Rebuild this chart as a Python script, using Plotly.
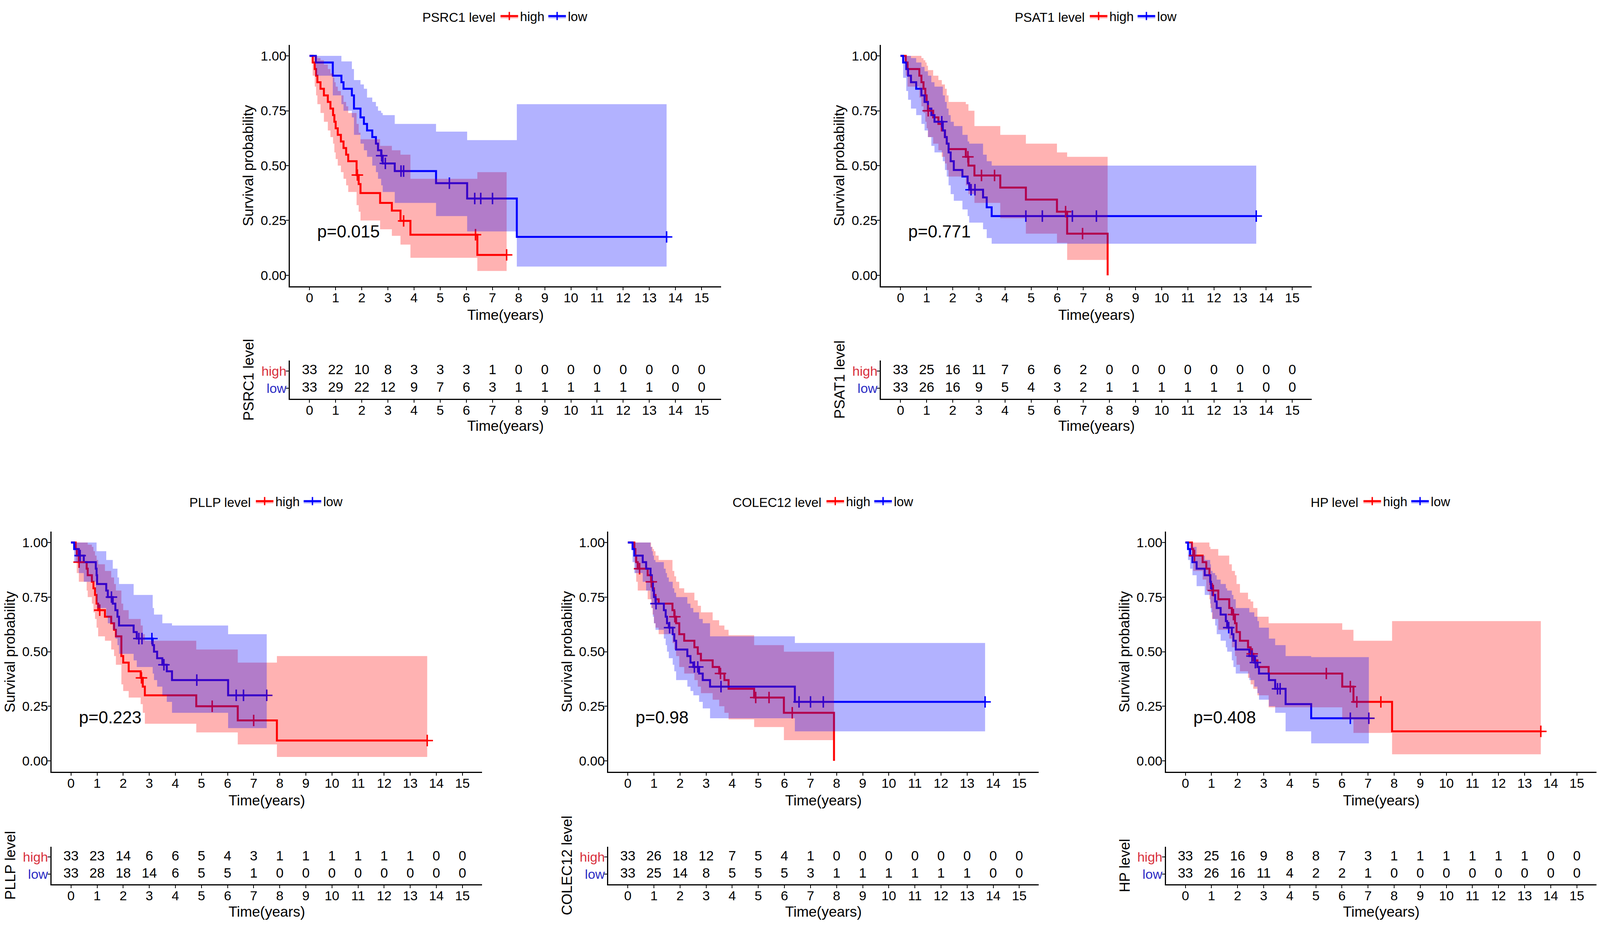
import plotly.graph_objects as go

# ---------------- data ----------------
GENES = ["PSRC1", "PSAT1", "PLLP", "COLEC12", "HP"]
GROUPS = ["high", "low"]
P_VALUES = ["p=0.015", "p=0.771", "p=0.223", "p=0.98", "p=0.408"]
TIME_TICKS = list(range(16))
SURV_TICKS = [0, 0.25, 0.5, 0.75, 1.0]
SURV_TICK_LABELS = ["0.00", "0.25", "0.50", "0.75", "1.00"]

# PSRC1
PSRC1_HIGH_T = [0, 0.12, 0.2, 0.25, 0.3, 0.42, 0.55, 0.7, 0.8, 0.9, 0.95, 1.0, 1.08, 1.2, 1.3, 1.4, 1.48, 1.8, 1.88, 1.95, 2.7, 3.15, 3.48, 3.86, 6.42]
PSRC1_HIGH_S = [1, .97, .94, .91, .88, .85, .82, .79, .76, .73, .70, .67, .64, .61, .58, .55, .52, .457, .416, .375, .33, .295, .248, .185, .093]
PSRC1_HIGH_UP = [1, 1, 1, 1, .99, .98, .96, .94, .92, .90, .88, .86, .84, .82, .79, .77, .74, .69, .65, .62, .59, .57, .55, .44, .47]
PSRC1_HIGH_LO = [1, .91, .86, .82, .78, .74, .70, .66, .63, .60, .56, .53, .50, .47, .44, .41, .38, .32, .29, .25, .21, .18, .14, .08, .02]
PSRC1_HIGH_CENSOR = [1.83, 3.6, 6.35, 7.54]
PSRC1_HIGH_END = 7.54
PSRC1_LOW_T = [0, 0.24, 0.89, 1.22, 1.3, 1.62, 1.7, 1.95, 2.08, 2.2, 2.4, 2.54, 2.62, 2.74, 2.8, 3.26, 4.84, 6.03, 7.93]
PSRC1_LOW_S = [1, .97, .91, .88, .85, .82, .76, .72, .69, .66, .63, .60, .57, .545, .51, .475, .42, .35, .175]
PSRC1_LOW_UP = [1, 1, 1, .975, .975, .94, .89, .87, .85, .81, .79, .77, .75, .74, .73, .69, .655, .616, .78]
PSRC1_LOW_LO = [1, .91, .82, .78, .75, .72, .64, .60, .57, .54, .50, .47, .44, .41, .38, .33, .27, .20, .04]
PSRC1_LOW_CENSOR = [2.76, 2.9, 3.5, 3.6, 5.35, 6.32, 6.55, 7.0, 13.66]
PSRC1_LOW_END = 13.66

# PSAT1
PSAT1_HIGH_T = [0, 0.2, 0.27, 0.72, 0.8, 0.88, 0.95, 1.0, 1.05, 1.25, 1.45, 1.58, 1.7, 1.77, 1.84, 2.5, 2.6, 2.83, 3.82, 4.8, 5.99, 6.38, 7.93]
PSAT1_HIGH_S = [1, .97, .94, .91, .88, .85, .82, .79, .75, .72, .69, .66, .63, .60, .575, .54, .50, .455, .40, .345, .29, .19, 0]
PSAT1_HIGH_UP = [1, 1, 1, 1, .99, .98, .97, .955, .935, .91, .89, .87, .85, .82, .79, .78, .75, .68, .64, .60, .56, .54, .54]
PSAT1_HIGH_LO = [1, .91, .86, .81, .77, .74, .70, .67, .63, .60, .57, .54, .51, .48, .45, .41, .37, .33, .26, .19, .148, .07, .07]
PSAT1_HIGH_CENSOR = [1.06, 2.58, 3.1, 3.6, 6.32, 6.97]
PSAT1_HIGH_END = 7.93
PSAT1_LOW_T = [0, 0.1, 0.22, 0.29, 0.4, 0.6, 0.8, 0.92, 1.05, 1.18, 1.3, 1.62, 1.7, 1.77, 1.84, 1.92, 2.04, 2.37, 2.57, 2.63, 3.16, 3.3, 3.49]
PSAT1_LOW_S = [1, .97, .94, .91, .88, .85, .82, .79, .76, .73, .70, .66, .63, .60, .56, .52, .48, .45, .42, .39, .355, .31, .27]
PSAT1_LOW_UP = [1, 1, 1, 1, .99, .97, .95, .93, .91, .88, .86, .82, .79, .76, .73, .70, .68, .64, .61, .60, .55, .52, .50]
PSAT1_LOW_LO = [1, .90, .84, .80, .76, .73, .69, .66, .63, .59, .56, .52, .48, .45, .41, .37, .34, .30, .27, .24, .21, .17, .144]
PSAT1_LOW_CENSOR = [1.58, 2.7, 2.85, 4.8, 5.43, 6.58, 7.5, 13.62]
PSAT1_LOW_END = 13.62

# PLLP
PLLP_HIGH_T = [0, .18, .22, .3, .6, .64, .8, .86, .92, .98, 1.04, 1.3, 1.54, 1.65, 1.72, 1.93, 2.0, 2.21, 2.67, 2.75, 2.83, 4.8, 6.39, 7.89]
PLLP_HIGH_S = [1, .97, .94, .91, .88, .85, .82, .79, .76, .72, .69, .66, .63, .60, .57, .48, .45, .41, .38, .34, .30, .25, .185, .093]
PLLP_HIGH_UP = [1, 1, 1, 1, 1, .99, .98, .96, .94, .92, .90, .87, .84, .81, .78, .72, .69, .65, .62, .58, .55, .51, .45, .48]
PLLP_HIGH_LO = [1, .91, .86, .82, .78, .75, .72, .68, .65, .61, .57, .55, .51, .48, .44, .35, .32, .29, .26, .22, .17, .13, .075, .018]
PLLP_HIGH_CENSOR = [.31, 1.1, 2.7, 5.41, 7.0, 13.65]
PLLP_HIGH_END = 13.65
PLLP_LOW_T = [0, .12, .3, .49, .95, .98, 1.0, 1.35, 1.41, 1.6, 1.7, 1.78, 1.84, 2.4, 2.52, 3.13, 3.18, 3.3, 3.5, 3.67, 3.87, 6.02]
PLLP_LOW_S = [1, .97, .94, .91, .88, .85, .81, .78, .75, .72, .69, .66, .62, .59, .56, .53, .50, .47, .44, .41, .37, .30]
PLLP_LOW_UP = [1, 1, 1, 1, 1, .96, .96, .92, .92, .88, .88, .84, .81, .76, .76, .70, .67, .67, .63, .63, .62, .58]
PLLP_LOW_LO = [1, .91, .86, .82, .77, .73, .70, .66, .63, .60, .56, .53, .49, .46, .43, .40, .37, .34, .30, .27, .22, .15]
PLLP_LOW_CENSOR = [.35, 1.55, 2.6, 2.72, 3.1, 3.56, 4.82, 6.33, 6.61, 7.5]
PLLP_LOW_END = 7.5

# COLEC12
COLEC12_HIGH_T = [0, .25, .29, .32, .38, .76, .89, .95, 1.0, 1.06, 1.18, 1.71, 1.78, 1.85, 1.97, 2.16, 2.55, 2.68, 2.8, 3.25, 3.5, 3.7, 3.86, 4.84, 5.98, 7.9]
COLEC12_HIGH_S = [1, .97, .94, .91, .88, .85, .82, .79, .76, .74, .72, .69, .66, .63, .58, .55, .52, .49, .46, .43, .40, .37, .33, .29, .22, 0]
COLEC12_HIGH_UP = [1, 1, 1, 1, 1, 1, .98, .97, .96, .94, .92, .87, .845, .82, .79, .77, .735, .71, .68, .644, .62, .60, .575, .53, .50, .50]
COLEC12_HIGH_LO = [1, .91, .86, .82, .78, .74, .70, .67, .63, .61, .58, .54, .51, .48, .43, .40, .37, .34, .31, .28, .25, .22, .19, .155, .095, .095]
COLEC12_HIGH_CENSOR = [.45, .9, 1.8, 3.55, 4.9, 5.41, 6.3]
COLEC12_HIGH_END = 7.9
COLEC12_LOW_T = [0, .18, .25, .57, .7, .87, .92, .96, 1.0, 1.06, 1.38, 1.45, 1.5, 1.57, 1.72, 1.78, 1.85, 2.28, 2.4, 2.51, 2.73, 2.87, 3.15, 6.4]
COLEC12_LOW_S = [1, .97, .94, .91, .88, .85, .82, .78, .75, .72, .69, .66, .63, .61, .58, .55, .51, .48, .45, .43, .40, .37, .34, .27]
COLEC12_LOW_UP = [1, 1, 1, 1, 1, .98, .96, .94, .92, .91, .88, .86, .84, .82, .79, .77, .75, .72, .70, .68, .65, .63, .57, .54]
COLEC12_LOW_LO = [1, .91, .86, .82, .78, .74, .70, .66, .63, .60, .56, .53, .50, .47, .44, .41, .37, .34, .32, .30, .27, .24, .195, .135]
COLEC12_LOW_CENSOR = [1.08, 1.6, 2.55, 2.68, 3.57, 6.56, 7.0, 7.49, 13.69]
COLEC12_LOW_END = 13.69

# HP
HP_HIGH_T = [0, .25, .3, .66, .8, .92, .96, 1.02, 1.26, 1.68, 1.78, 1.9, 1.96, 2.09, 2.4, 2.5, 2.6, 2.76, 3.19, 6.01, 6.44, 7.92]
HP_HIGH_S = [1, .97, .94, .91, .88, .85, .81, .78, .74, .70, .67, .63, .59, .55, .52, .49, .46, .43, .40, .34, .27, .135]
HP_HIGH_UP = [1, 1, 1, 1, 1, .98, .97, .97, .94, .90, .87, .85, .81, .77, .74, .73, .70, .66, .63, .60, .55, .64]
HP_HIGH_LO = [1, .91, .87, .83, .78, .74, .70, .65, .60, .56, .52, .48, .44, .41, .38, .35, .33, .30, .245, .19, .128, .03]
HP_HIGH_CENSOR = [.35, 1.07, 1.84, 2.56, 5.4, 6.32, 6.57, 7.49, 13.62]
HP_HIGH_END = 13.62
HP_LOW_T = [0, .1, .18, .27, .43, .74, .95, .98, 1.04, 1.14, 1.2, 1.35, 1.55, 1.6, 1.78, 1.84, 1.93, 2.45, 2.64, 2.76, 2.82, 3.2, 3.44, 3.84, 4.82]
HP_LOW_S = [1, .97, .94, .91, .88, .85, .82, .79, .76, .73, .70, .67, .64, .61, .58, .55, .51, .48, .45, .43, .40, .37, .33, .26, .195]
HP_LOW_UP = [1, 1, 1, .98, .94, .92, .90, .87, .86, .85, .83, .81, .79, .78, .76, .74, .70, .68, .66, .64, .61, .56, .53, .48, .475]
HP_LOW_LO = [1, .92, .88, .85, .80, .76, .72, .68, .65, .62, .58, .55, .52, .50, .46, .43, .40, .37, .34, .31, .28, .25, .22, .135, .08]
HP_LOW_CENSOR = [1.66, 2.55, 2.68, 3.53, 3.63, 6.32, 7.03]
HP_LOW_END = 7.03

# numbers at risk (t = 0..15)
PSRC1_RISK_HIGH = [33, 22, 10, 8, 3, 3, 3, 1, 0, 0, 0, 0, 0, 0, 0, 0]
PSRC1_RISK_LOW = [33, 29, 22, 12, 9, 7, 6, 3, 1, 1, 1, 1, 1, 1, 0, 0]
PSAT1_RISK_HIGH = [33, 25, 16, 11, 7, 6, 6, 2, 0, 0, 0, 0, 0, 0, 0, 0]
PSAT1_RISK_LOW = [33, 26, 16, 9, 5, 4, 3, 2, 1, 1, 1, 1, 1, 1, 0, 0]
PLLP_RISK_HIGH = [33, 23, 14, 6, 6, 5, 4, 3, 1, 1, 1, 1, 1, 1, 0, 0]
PLLP_RISK_LOW = [33, 28, 18, 14, 6, 5, 5, 1, 0, 0, 0, 0, 0, 0, 0, 0]
COLEC12_RISK_HIGH = [33, 26, 18, 12, 7, 5, 4, 1, 0, 0, 0, 0, 0, 0, 0, 0]
COLEC12_RISK_LOW = [33, 25, 14, 8, 5, 5, 5, 3, 1, 1, 1, 1, 1, 1, 0, 0]
HP_RISK_HIGH = [33, 25, 16, 9, 8, 8, 7, 3, 1, 1, 1, 1, 1, 1, 0, 0]
HP_RISK_LOW = [33, 26, 16, 11, 4, 2, 2, 1, 0, 0, 0, 0, 0, 0, 0, 0]

g = globals()
DATA = {gene: {grp: tuple(g[f"{gene}_{grp.upper()}_{k}"] for k in ("T", "S", "UP", "LO", "CENSOR", "END"))
               for grp in GROUPS} for gene in GENES}
RISK = {gene: {grp: g[f"{gene}_RISK_{grp.upper()}"] for grp in GROUPS} for gene in GENES}

# ---------------- layout / style ----------------
# positions below are designed on a 4448 x 2376 canvas and used as fractions
W, H = 4448, 2376
FONT = "Liberation Sans, Arial, Helvetica, sans-serif"
LINE_COLOR = {"high": "#FF0000", "low": "#0000FF"}
FILL_COLOR = {"high": "rgba(255,0,0,0.3)", "low": "rgba(0,0,255,0.3)"}
LABEL_COLOR = {"high": "#D8303C", "low": "#2B2BC4"}

PANEL_X_PX = {"PSRC1": (806, 2005), "PSAT1": (2449, 3647), "PLLP": (143, 1340),
              "COLEC12": (1691, 2888), "HP": (3241, 4438)}
PANEL_ROW = {"PSRC1": 0, "PSAT1": 0, "PLLP": 1, "COLEC12": 1, "HP": 1}
KM_Y_PX = [(115, 733), (1361, 1976)]
RISK_Y_PX = [(923, 1021), (2168, 2264)]
LEGEND_Y_PX = [41, 1283]
X_RANGE = [-0.75, 15.75]

AX = dict(showline=True, linecolor="black", linewidth=3, ticks="outside", ticklen=7,
          tickwidth=2.4, tickcolor="black", showgrid=False, zeroline=False,
          automargin=False, fixedrange=True,
          tickfont=dict(family=FONT, size=34, color="black"))


def step_value(T, S, t):
    v = S[0]
    for ti, si in zip(T, S):
        if ti <= t:
            v = si
    return v


fig = go.Figure()
annotations = []
layout = {}

for i, gene in enumerate(GENES):
    km_n, rk_n = 2 * i + 1, 2 * i + 2
    kx = "x" if km_n == 1 else f"x{km_n}"
    ky = "y" if km_n == 1 else f"y{km_n}"
    rx, ry = f"x{rk_n}", f"y{rk_n}"
    leg = "legend" if i == 0 else f"legend{i + 1}"
    row = PANEL_ROW[gene]
    x0, x1 = PANEL_X_PX[gene]
    ky0, ky1 = KM_Y_PX[row]
    ry0, ry1 = RISK_Y_PX[row]

    # survival step lines
    for grp in GROUPS:
        T, S, U, L, C, E = DATA[gene][grp]
        fig.add_trace(go.Scatter(
            x=list(T) + [E], y=list(S) + [S[-1]], mode="lines",
            line=dict(color=LINE_COLOR[grp], width=5, shape="hv"),
            xaxis=kx, yaxis=ky, legend=leg, showlegend=False, hoverinfo="skip"))
    # censor marks
    for grp in GROUPS:
        T, S, U, L, C, E = DATA[gene][grp]
        fig.add_trace(go.Scatter(
            x=C, y=[step_value(T, S, c) for c in C], mode="markers",
            marker=dict(symbol="cross-thin", size=21, color=LINE_COLOR[grp],
                        line=dict(width=3.8, color=LINE_COLOR[grp])),
            xaxis=kx, yaxis=ky, legend=leg, showlegend=False, hoverinfo="skip"))
    # confidence bands
    for grp in GROUPS:
        T, S, U, L, C, E = DATA[gene][grp]
        xs = list(T) + [E]
        fig.add_trace(go.Scatter(
            x=xs, y=list(U) + [U[-1]], mode="lines", line=dict(width=0, shape="hv"),
            xaxis=kx, yaxis=ky, legend=leg, showlegend=False, hoverinfo="skip"))
        fig.add_trace(go.Scatter(
            x=xs, y=list(L) + [L[-1]], mode="lines", line=dict(width=0, shape="hv"),
            fill="tonexty", fillcolor=FILL_COLOR[grp],
            xaxis=kx, yaxis=ky, legend=leg, showlegend=False, hoverinfo="skip"))
    # legend entries
    for grp in GROUPS:
        fig.add_trace(go.Scatter(
            x=[None], y=[None], mode="lines+markers", name=grp,
            line=dict(color=LINE_COLOR[grp], width=5),
            marker=dict(symbol="cross-thin", size=15, color=LINE_COLOR[grp],
                        line=dict(width=3.5, color=LINE_COLOR[grp])),
            fill="toself", fillcolor=FILL_COLOR[grp],
            xaxis=kx, yaxis=ky, legend=leg, showlegend=True))
    # risk table numbers
    for grp, yv in (("high", 2), ("low", 1)):
        fig.add_trace(go.Scatter(
            x=TIME_TICKS, y=[yv] * len(TIME_TICKS), mode="text",
            text=[str(v) for v in RISK[gene][grp]],
            textfont=dict(family=FONT, size=35, color="black"),
            xaxis=rx, yaxis=ry, legend=leg, showlegend=False, hoverinfo="skip",
            cliponaxis=False))

    xd = [x0 / W, x1 / W]
    layout["xaxis" if km_n == 1 else f"xaxis{km_n}"] = dict(
        domain=xd, anchor=ky, range=X_RANGE, tickvals=TIME_TICKS, ticklabelstandoff=-10, **AX)
    layout["yaxis" if km_n == 1 else f"yaxis{km_n}"] = dict(
        domain=[1 - ky1 / H, 1 - ky0 / H], anchor=kx, range=[-0.05, 1.05],
        tickvals=SURV_TICKS, ticktext=SURV_TICK_LABELS, ticklabelstandoff=-8, **AX)
    layout[f"xaxis{rk_n}"] = dict(domain=xd, anchor=ry, range=X_RANGE, tickvals=TIME_TICKS,
                                  ticklabelstandoff=-10, **AX)
    layout[f"yaxis{rk_n}"] = dict(
        domain=[1 - ry1 / H, 1 - ry0 / H], anchor=rx, range=[0.4, 2.6], tickvals=[1, 2],
        ticklabelstandoff=-8,
        ticktext=[f'<span style="color:{LABEL_COLOR["low"]}">low</span>',
                  f'<span style="color:{LABEL_COLOR["high"]}">high</span>'], **AX)

    layout[leg] = dict(
        orientation="h", x=(x0 + x1) / 2 / W, xanchor="center",
        y=1 - LEGEND_Y_PX[row] / H, yanchor="middle", traceorder="normal",
        title=dict(text=f"{gene} level", side="left", font=dict(family=FONT, size=33, color="black")),
        font=dict(family=FONT, size=33, color="black"), bgcolor="rgba(0,0,0,0)",
        itemwidth=45)

    cx = (x0 + x1) / 2 / W
    annotations += [
        dict(x=0.27, y=0.2, xref=kx, yref=ky, text=P_VALUES[i], showarrow=False,
             xanchor="left", yanchor="middle", font=dict(family=FONT, size=44, color="black")),
        dict(x=cx, y=1 - (ky1 + 73) / H, xref="paper", yref="paper", text="Time(years)",
             showarrow=False, xanchor="center", yanchor="middle",
             font=dict(family=FONT, size=37, color="black")),
        dict(x=cx, y=1 - (ry1 + 70) / H, xref="paper", yref="paper", text="Time(years)",
             showarrow=False, xanchor="center", yanchor="middle",
             font=dict(family=FONT, size=37, color="black")),
        dict(x=(x0 - 115) / W, y=1 - (ky0 + ky1) / 2 / H, xref="paper", yref="paper",
             text="Survival probability", textangle=-90, showarrow=False,
             xanchor="center", yanchor="middle", font=dict(family=FONT, size=37, color="black")),
        dict(x=(x0 - 115) / W, y=1 - (ry0 + ry1) / 2 / H, xref="paper", yref="paper",
             text=f"{gene} level", textangle=-90, showarrow=False,
             xanchor="center", yanchor="middle", font=dict(family=FONT, size=37, color="black")),
    ]

fig.update_layout(
    autosize=True, margin=dict(l=0, r=0, t=0, b=0, pad=0),
    paper_bgcolor="white", plot_bgcolor="white",
    font=dict(family=FONT, color="black"),
    annotations=annotations, **layout)

# the figure fills the whole browser window
POST = ("document.documentElement.style.margin='0';document.documentElement.style.overflow='hidden';"
        "document.body.style.margin='0';document.body.style.overflow='hidden';"
        "var gd=document.getElementById('{plot_id}');"
        "gd.style.width='100vw';gd.style.height='100vh';Plotly.Plots.resize(gd);")

fig.write_html("out.html", default_width="100vw", default_height="100vh",
               config={"responsive": True, "displayModeBar": False}, post_script=POST)
